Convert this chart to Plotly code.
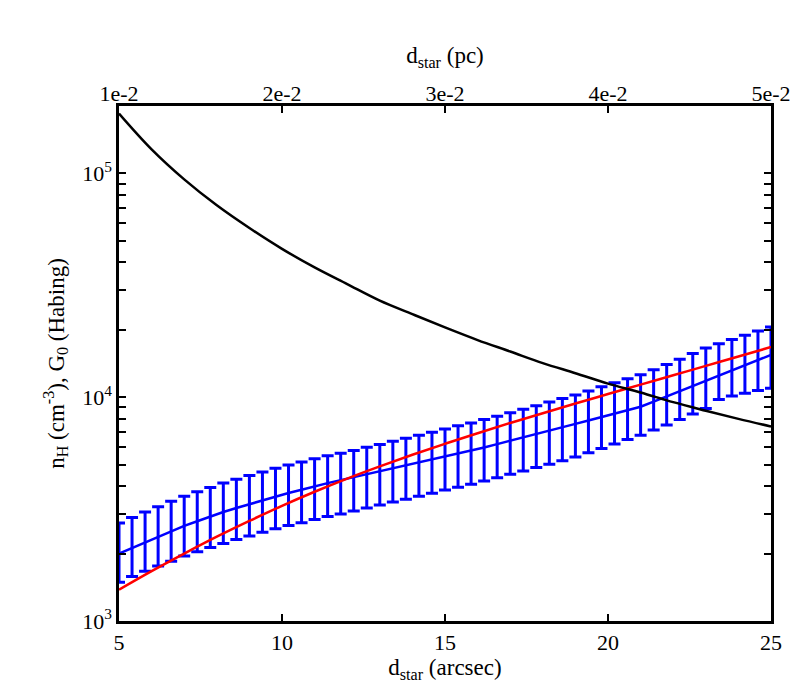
import plotly.graph_objects as go

# ---- data ----
# black curve: G0 (Habing) vs d_star (arcsec)
g0_x = [5, 6, 7, 8, 9, 10, 11, 12, 13, 14, 15, 16, 17, 18, 19, 20, 21, 22, 23, 24, 25]
g0_y = [185000, 128000, 94000, 72000, 57000, 46000, 38000, 32000, 27000, 23500, 20500,
        18000, 16000, 14200, 12800, 11500, 10500, 9500, 8700, 8000, 7400]

# red curve: model n_H
red_x = [5, 6, 7, 8, 9, 10, 11, 12, 13, 14, 15, 16, 17, 18, 19, 20, 21, 22, 23, 24, 25]
red_y = [1380, 1670, 2000, 2380, 2800, 3270, 3780, 4330, 4910, 5530, 6190, 6900, 7670,
         8480, 9370, 10330, 11380, 12530, 13800, 15200, 16750]

# blue: measured n_H with error bars
nh_x = [5.0, 5.4, 5.8, 6.2, 6.6, 7.0, 7.4, 7.8, 8.2, 8.6, 9.0, 9.4, 9.8, 10.2, 10.6, 11.0,
        11.4, 11.8, 12.2, 12.6, 13.0, 13.4, 13.8, 14.2, 14.6, 15.0, 15.4, 15.8, 16.2, 16.6,
        17.0, 17.4, 17.8, 18.2, 18.6, 19.0, 19.4, 19.8, 20.2, 20.6, 21.0, 21.4, 21.8, 22.2,
        22.6, 23.0, 23.4, 23.8, 24.2, 24.6, 25.0]
nh_mid = [2000, 2120, 2250, 2380, 2520, 2660, 2790, 2930, 3070, 3200, 3330, 3470, 3610, 3730,
          3860, 4000, 4130, 4260, 4390, 4520, 4660, 4800, 4940, 5090, 5260, 5430, 5600, 5770,
          5960, 6170, 6380, 6610, 6840, 7100, 7350, 7600, 7870, 8150, 8450, 8750, 9060, 9550,
          10070, 10640, 11220, 11830, 12470, 13150, 13900, 14660, 15450]
nh_upper = [2740, 2900, 3070, 3240, 3430, 3610, 3780, 3950, 4140, 4300, 4470, 4630, 4810, 4980,
            5140, 5310, 5470, 5610, 5780, 5970, 6150, 6350, 6550, 6760, 6980, 7210, 7450, 7670,
            7940, 8220, 8510, 8830, 9160, 9510, 9860, 10230, 10670, 11120, 11590, 12080, 12590,
            13270, 14000, 14790, 15670, 16600, 17340, 18110, 18920, 19770, 20610]
nh_lower = [1490, 1580, 1670, 1760, 1850, 1950, 2040, 2130, 2220, 2310, 2400, 2490, 2580, 2670,
            2750, 2840, 2930, 3010, 3100, 3200, 3300, 3400, 3500, 3610, 3720, 3850, 3960, 4080,
            4220, 4370, 4520, 4680, 4850, 5020, 5200, 5400, 5650, 5900, 6180, 6470, 6760, 7130,
            7520, 7940, 8410, 8910, 9770, 10120, 10400, 10720, 10960]

# tick labels
x_ticks = [5, 10, 15, 20, 25]
pc_ticks = [0.01, 0.02, 0.03, 0.04, 0.05]
pc_labels = ["1e-2", "2e-2", "3e-2", "4e-2", "5e-2"]
y_ticks = [1e3, 1e4, 1e5]
y_labels = ["10<sup>3</sup>", "10<sup>4</sup>", "10<sup>5</sup>"]

err_plus = [u - m for u, m in zip(nh_upper, nh_mid)]
err_minus = [m - l for m, l in zip(nh_mid, nh_lower)]

FONT = "Liberation Serif"
TICK_SIZE = 22
TITLE_SIZE = 23

fig = go.Figure()
fig.add_trace(go.Scatter(
    x=nh_x, y=nh_mid, mode="lines",
    line=dict(color="#0000FF", width=2.5),
    error_y=dict(type="data", symmetric=False, array=err_plus, arrayminus=err_minus,
                 color="#0000FF", thickness=3, width=6),
    showlegend=False, hoverinfo="skip"))
fig.add_trace(go.Scatter(
    x=red_x, y=red_y, mode="lines", line=dict(color="#FF0000", width=2.5, shape="spline"),
    showlegend=False))
fig.add_trace(go.Scatter(
    x=g0_x, y=g0_y, mode="lines", line=dict(color="black", width=2.5, shape="spline"),
    showlegend=False))
# invisible trace to activate top axis
fig.add_trace(go.Scatter(x=pc_ticks, y=[None] * len(pc_ticks), xaxis="x2", mode="lines",
                         showlegend=False, hoverinfo="skip"))

minor_vals = [m * 10 ** k for k in (3, 4, 5) for m in range(2, 10)]

fig.update_layout(
    width=800, height=693,
    paper_bgcolor="white", plot_bgcolor="white",
    margin=dict(l=111, r=37, t=98, b=80),
    font=dict(family=FONT, size=TICK_SIZE, color="black"),
    xaxis=dict(
        range=[5, 25], tickvals=x_ticks, ticktext=[str(v) for v in x_ticks],
        ticks="inside", ticklen=7, tickwidth=2, tickcolor="black",
        showline=True, linewidth=2.5, linecolor="black", mirror=True,
        showgrid=False, zeroline=False,
        title=dict(text="d<sub>star</sub> (arcsec)", standoff=0, font=dict(size=TITLE_SIZE)),
        tickfont=dict(size=TICK_SIZE),
    ),
    xaxis2=dict(
        overlaying="x", side="top", range=[0.01, 0.05],
        tickvals=pc_ticks, ticktext=pc_labels,
        ticks="inside", ticklen=7, tickwidth=2, tickcolor="black",
        showline=False, showgrid=False, zeroline=False,
        title=dict(text="d<sub>star</sub> (pc)", standoff=10, font=dict(size=TITLE_SIZE)),
        tickfont=dict(size=TICK_SIZE),
    ),
    yaxis=dict(
        type="log", range=[3, 5.301],
        tickvals=y_ticks, ticktext=y_labels,
        ticks="inside", ticklen=7, tickwidth=2, tickcolor="black",
        showline=True, linewidth=2.5, linecolor="black", mirror="allticks",
        showgrid=False, zeroline=False,
        minor=dict(tickvals=minor_vals, ticks="inside", ticklen=4, tickwidth=1.5,
                   tickcolor="black", showgrid=False),
        title=dict(text="n<sub>H</sub> (cm<sup>-3</sup>), G<sub>0</sub> (Habing)",
                   standoff=12, font=dict(size=TITLE_SIZE)),
        tickfont=dict(size=TICK_SIZE),
    ),
)

fig.write_html("out.html")
